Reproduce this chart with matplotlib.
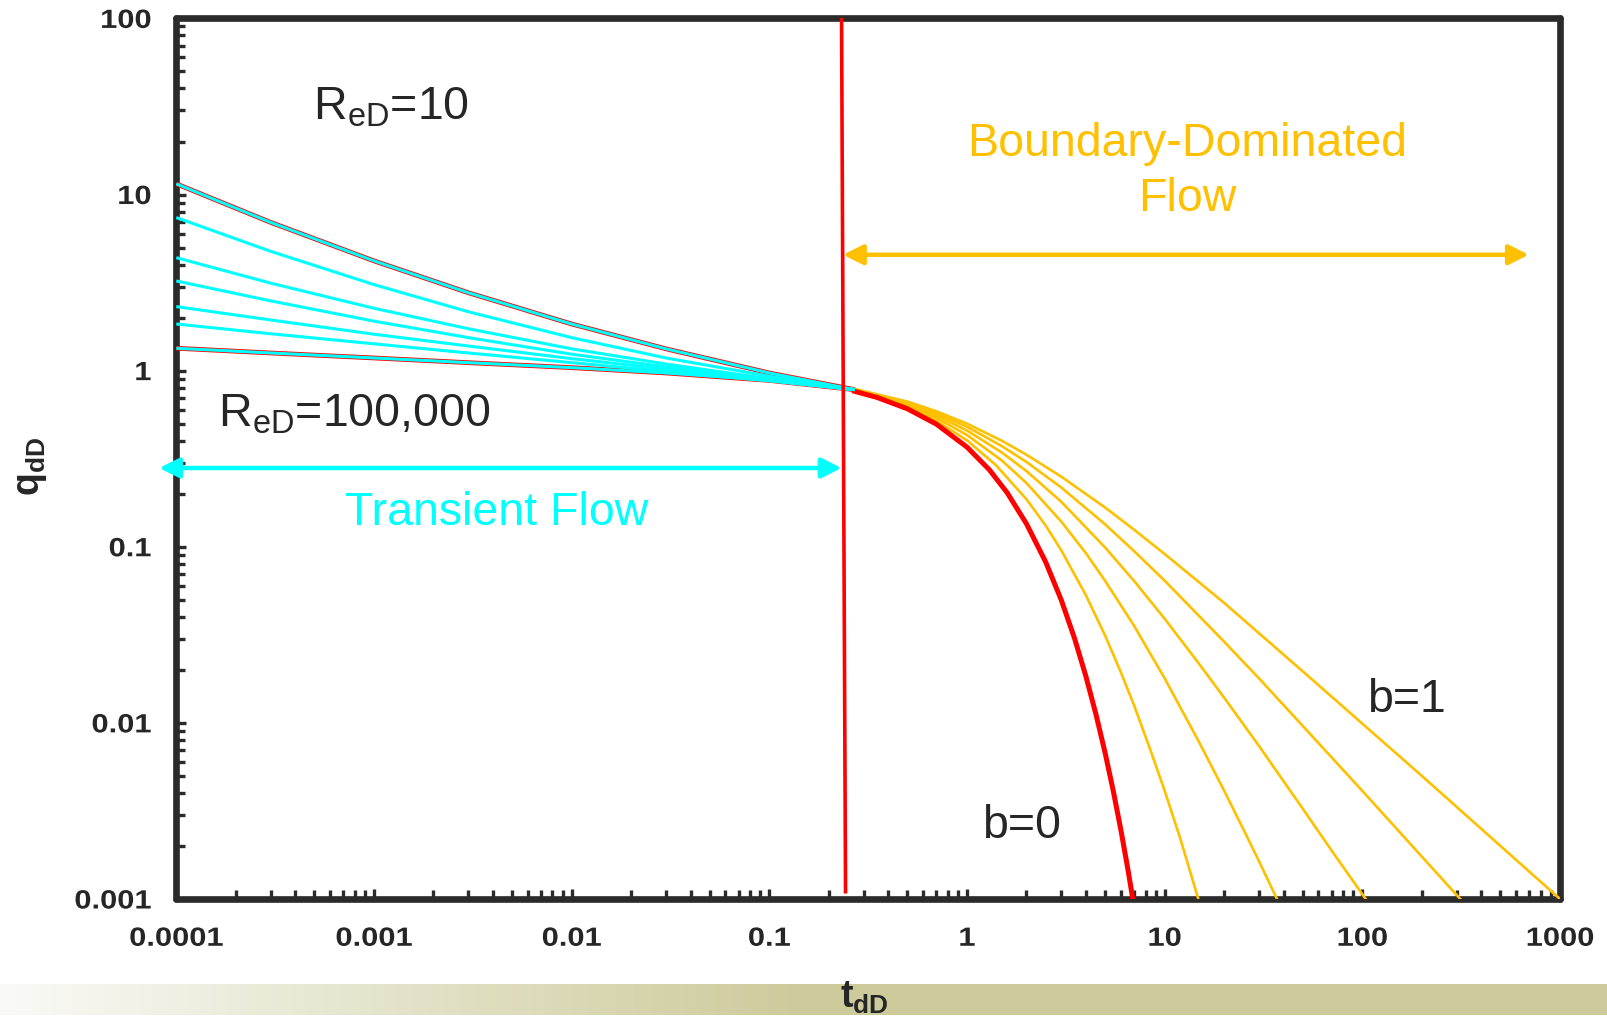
import numpy as np
import matplotlib
matplotlib.use('Agg')
import matplotlib.pyplot as plt
from matplotlib.ticker import LogLocator, NullFormatter
from matplotlib.patheffects import AbstractPathEffect
from matplotlib.transforms import Affine2D

plt.rcParams['font.family'] = ['Liberation Sans', 'DejaVu Sans']
plt.rcParams['mathtext.fontset'] = 'custom'
plt.rcParams['mathtext.rm'] = 'Liberation Sans'
plt.rcParams['mathtext.it'] = 'Liberation Sans:italic'
plt.rcParams['mathtext.bf'] = 'Liberation Sans:bold'

# 数据: 瞬态段 (R_eD = 10 ... 100,000)
t_transient = [1e-4, 3e-4, 1e-3, 3e-3, 1e-2, 3e-2, 0.1, 0.27]
q_tr1 = [11.5, 6.95, 4.2, 2.77, 1.84, 1.33, 0.97, 0.78]
q_tr2 = [7.4, 4.76, 3.08, 2.16, 1.54, 1.18, 0.93, 0.78]
q_tr3 = [4.38, 3.14, 2.26, 1.73, 1.33, 1.09, 0.90, 0.78]
q_tr4 = [3.23, 2.49, 1.91, 1.54, 1.24, 1.05, 0.89, 0.78]
q_tr5 = [2.31, 1.94, 1.61, 1.38, 1.17, 1.02, 0.88, 0.78]
q_tr6 = [1.84, 1.62, 1.42, 1.26, 1.11, 0.99, 0.875, 0.78]
q_tr7 = [1.34, 1.26, 1.18, 1.11, 1.04, 0.97, 0.88, 0.78]

# 边界控制段 (b = 0 ... 1)
t_b0 = [0.27, 0.35, 0.5, 0.7, 1, 1.3, 1.6, 2, 2.5, 3, 3.5, 4, 4.5, 5, 5.5, 6, 6.5, 6.9]
q_b0 = [0.763, 0.705, 0.607, 0.497, 0.368, 0.273, 0.202, 0.135, 0.082, 0.0498, 0.0302,
        0.0183, 0.0111, 0.00674, 0.00409, 0.00248, 0.0015, 0.001]
t_b02 = [0.27, 0.35, 0.5, 0.7, 1, 1.4, 2, 2.5, 3, 4, 5, 6, 7, 8.5, 10, 12, 14.8]
q_b02 = [0.769, 0.713, 0.621, 0.519, 0.402, 0.291, 0.186, 0.132, 0.0954, 0.0529, 0.0313,
         0.0194, 0.0126, 0.00694, 0.00412, 0.0022, 0.001]
t_b04 = [0.27, 0.5, 0.7, 1, 1.5, 2, 3, 4, 5, 7, 10, 15, 20, 25, 30, 37]
q_b04 = [0.774, 0.634, 0.539, 0.431, 0.309, 0.23, 0.139, 0.0918, 0.064, 0.0356, 0.0179,
         0.0077, 0.00412, 0.00249, 0.00164, 0.001]
t_b06 = [0.27, 0.5, 0.7, 1, 1.5, 2, 3, 5, 7, 10, 15, 20, 30, 50, 70, 104]
q_b06 = [0.779, 0.646, 0.557, 0.457, 0.343, 0.269, 0.18, 0.099, 0.064, 0.039, 0.0215,
         0.0139, 0.0074, 0.00325, 0.00188, 0.001]
t_b08 = [0.27, 0.5, 0.7, 1, 1.5, 2, 3, 5, 7, 10, 20, 30, 50, 100, 200, 313]
q_b08 = [0.783, 0.657, 0.573, 0.48, 0.373, 0.303, 0.217, 0.134, 0.0945, 0.0642, 0.0289,
         0.0179, 0.0096, 0.00411, 0.00174, 0.001]
t_b1 = [0.27, 0.5, 0.7, 1, 1.5, 2, 3, 5, 7, 10, 20, 50, 100, 200, 500, 1000]
q_b1 = [0.787, 0.667, 0.588, 0.5, 0.4, 0.333, 0.25, 0.167, 0.125, 0.091, 0.048, 0.0196,
        0.0099, 0.005, 0.002, 0.001]

# 分界线
t_split = [0.232, 0.243]
q_split = [100, 0.0011]

x_ticks = [1e-4, 1e-3, 1e-2, 1e-1, 1, 10, 100, 1000]
x_labels = ['0.0001', '0.001', '0.01', '0.1', '1', '10', '100', '1000']
y_ticks = [1e-3, 1e-2, 1e-1, 1, 10, 100]
y_labels = ['0.001', '0.01', '0.1', '1', '10', '100']

CYAN = '#00FFFF'
GOLD = '#FFC000'
RED = '#FF0000'
DARK = '#2B2B2B'
TXT = '#262626'


class HStretch(AbstractPathEffect):
    """横向拉伸文字 (原图字体偏宽)"""

    def __init__(self, sx=1.15, anchor='center'):
        super().__init__()
        self.sx = sx
        self.anchor = anchor

    def draw_path(self, renderer, gc, tpath, affine, rgbFace=None):
        ext = tpath.get_extents(affine)
        if self.anchor == 'left':
            cx = ext.x0
        elif self.anchor == 'right':
            cx = ext.x1
        else:
            cx = 0.5 * (ext.x0 + ext.x1)
        tr = affine + Affine2D().translate(-cx, 0).scale(self.sx, 1).translate(cx, 0)
        renderer.draw_path(gc, tpath, tr, rgbFace)


W, H = 1607, 1017
fig = plt.figure(figsize=(W / 100, H / 100), dpi=100)
fig.patch.set_facecolor('white')

# 底部渐变条
band = fig.add_axes([0, 2 / H, 1, 31 / H])
g = np.linspace(0, 1, 512)
frac = np.clip(g / 0.5, 0, 1)
c0 = np.array([0.98, 0.98, 0.97])
c1 = np.array([205, 203, 155]) / 255
img = c0[None, :] + (c1 - c0)[None, :] * frac[:, None]
band.imshow(img[None, :, :], aspect='auto', extent=[0, 1, 0, 1])
band.axis('off')

ax = fig.add_axes([176.3 / W, (H - 899) / H, 1383.7 / W, 880.6 / H])
ax.set_xscale('log')
ax.set_yscale('log')
ax.set_xlim(1e-4, 1000)
ax.set_ylim(1e-3, 100)

# 瞬态曲线
transient = [q_tr1, q_tr2, q_tr3, q_tr4, q_tr5, q_tr6, q_tr7]
for i, q in enumerate(transient):
    if i in (0, 6):
        ax.plot(t_transient, q, color=RED, lw=3.4, zorder=3, solid_capstyle='butt')
    ax.plot(t_transient, q, color=CYAN, lw=2.2, zorder=4, solid_capstyle='butt')

# 衰减曲线
for t, q in [(t_b02, q_b02), (t_b04, q_b04), (t_b06, q_b06), (t_b08, q_b08), (t_b1, q_b1)]:
    ax.plot(t, q, color=GOLD, lw=1.9, zorder=3)
ax.plot(t_b0, q_b0, color=RED, lw=3.6, zorder=3.5)

ax.plot(t_split, q_split, color=RED, lw=2.6, zorder=5)

# 箭头
ax.annotate('', xy=(0.232, 0.28), xytext=(8.2e-5, 0.28),
            arrowprops=dict(arrowstyle='<|-|>', color=CYAN, lw=3.2,
                            mutation_scale=30, shrinkA=0, shrinkB=0),
            annotation_clip=False, zorder=6)
ax.annotate('', xy=(695, 4.55), xytext=(0.236, 4.55),
            arrowprops=dict(arrowstyle='<|-|>', color=GOLD, lw=3.2,
                            mutation_scale=30, shrinkA=0, shrinkB=0),
            annotation_clip=False, zorder=6)

# 文字
fs = 33.5
ax.text(0.0985, 0.885, r'R$_{\mathrm{eD}}$=10', transform=ax.transAxes,
        fontsize=fs, color=TXT, va='baseline', ha='left')
ax.text(0.0304, 0.5367, r'R$_{\mathrm{eD}}$=100,000', transform=ax.transAxes,
        fontsize=fs, color=TXT, va='baseline', ha='left')
ax.text(0.2315, 0.425, 'Transient Flow', transform=ax.transAxes,
        fontsize=fs, color=CYAN, va='baseline', ha='center')
ax.text(0.7303, 0.844, 'Boundary-Dominated', transform=ax.transAxes,
        fontsize=fs, color=GOLD, va='baseline', ha='center')
ax.text(0.7303, 0.781, 'Flow', transform=ax.transAxes,
        fontsize=fs, color=GOLD, va='baseline', ha='center')
ax.text(0.8607, 0.212, 'b=1', transform=ax.transAxes,
        fontsize=fs, color=TXT, va='baseline', ha='left')
ax.text(0.5821, 0.0688, 'b=0', transform=ax.transAxes,
        fontsize=fs, color=TXT, va='baseline', ha='left')

# 坐标轴样式
for s in ax.spines.values():
    s.set_linewidth(4.8)
    s.set_color(DARK)
    s.set_capstyle('round')

ax.set_xticks(x_ticks, x_labels)
ax.set_yticks(y_ticks, y_labels)
ax.xaxis.set_minor_locator(LogLocator(base=10, subs=np.arange(2, 10), numticks=20))
ax.yaxis.set_minor_locator(LogLocator(base=10, subs=np.arange(2, 10), numticks=20))
ax.xaxis.set_minor_formatter(NullFormatter())
ax.yaxis.set_minor_formatter(NullFormatter())
ax.tick_params(which='both', direction='in', color=DARK, top=False, right=False)
ax.tick_params(which='major', length=7.5, width=2.4, labelsize=19, labelcolor=TXT)
ax.tick_params(which='minor', length=6.5, width=2.4)
ax.tick_params(axis='x', which='major', pad=20)
ax.tick_params(axis='y', which='major', pad=18)
for lab in ax.get_xticklabels():
    lab.set_fontweight('bold')
    lab.set_path_effects([HStretch(1.17, 'center')])
for lab in ax.get_yticklabels():
    lab.set_fontweight('bold')
    lab.set_path_effects([HStretch(1.17, 'right')])

fig.text(30.7 / W, 1 - 466 / H, r'$\mathbf{q_{dD}}$', rotation=90, fontsize=27,
         color=TXT, ha='center', va='center')
fig.text(864 / W, 1 - 998 / H, r'$\mathbf{t_{dD}}$', fontsize=27,
         color=TXT, ha='center', va='center', zorder=10)

fig.savefig('out.png', dpi=100, facecolor='white')
plt.close(fig)
